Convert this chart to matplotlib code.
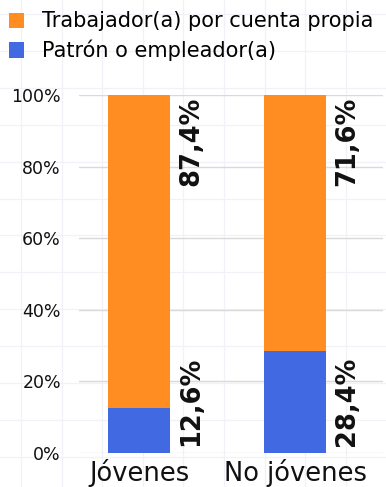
import matplotlib.pyplot as plt
import numpy as np

# data
categories = ['Jóvenes', 'No jóvenes']
patron = [12.6, 28.4]
cuenta_propia = [87.4, 71.6]
series_names = ['Trabajador(a) por cuenta propia', 'Patrón o empleador(a)']
yticks = [0, 20, 40, 60, 80, 100]

orange = '#FF8D21'
blue = '#4169E1'

fig = plt.figure(figsize=(3.86, 4.87), dpi=100)

# faint graph-paper background
bg = fig.add_axes([0, 0, 1, 1], zorder=-10)
bg.set_xlim(0, 386)
bg.set_ylim(487, 0)
for gx in np.arange(21, 386, 40.6):
    bg.axvline(gx, color='#f1f1f8', lw=0.9)
for gy in np.arange(14, 487, 36.9):
    bg.axhline(gy, color='#f1f1f8', lw=0.9)
bg.axis('off')

ax = fig.add_axes([79 / 386, 34 / 487, 304 / 386, 358 / 487])
ax.patch.set_alpha(0)
x = np.arange(len(categories))
w = 0.4
ax.bar(x, patron, w, color=blue, label=series_names[1], zorder=3)
ax.bar(x, cuenta_propia, w, bottom=patron, color=orange, label=series_names[0], zorder=3)

ax.set_xlim(-0.385, 1.564)
ax.set_ylim(0, 100)
ax.set_yticks(yticks)
ax.set_yticklabels([f'{t}%' for t in yticks], fontsize=12.5, color='#111111')
ax.yaxis.grid(True, color='#d9d9d9', lw=1)
ax.set_axisbelow(True)
ax.tick_params(axis='y', length=0, pad=13)
ax.tick_params(axis='x', length=0, pad=4)
ax.set_xticks(x)
ax.set_xticklabels(categories, fontsize=18.5, color='#111111')
for s in ax.spines.values():
    s.set_visible(False)

# value labels, rotated next to each bar
for i in range(len(categories)):
    xi = x[i] + 0.335
    ax.text(xi, 99.5, f'{cuenta_propia[i]:.1f}%'.replace('.', ','), rotation=90,
            ha='center', va='top', fontsize=18.5, fontweight='heavy', color='#111111')
    ax.text(xi, 2, f'{patron[i]:.1f}%'.replace('.', ','), rotation=90,
            ha='center', va='bottom', fontsize=18.5, fontweight='heavy', color='#111111')

# legend
h, l = ax.get_legend_handles_labels()
fig.legend(h[::-1], l[::-1], loc='upper left', bbox_to_anchor=(-0.007, 1.0),
           frameon=False, fontsize=15, handlelength=0.75, handleheight=0.75,
           handletextpad=0.85, labelspacing=0.4, borderaxespad=0.2,
           borderpad=0.35)

fig.savefig('out.png', dpi=100)
